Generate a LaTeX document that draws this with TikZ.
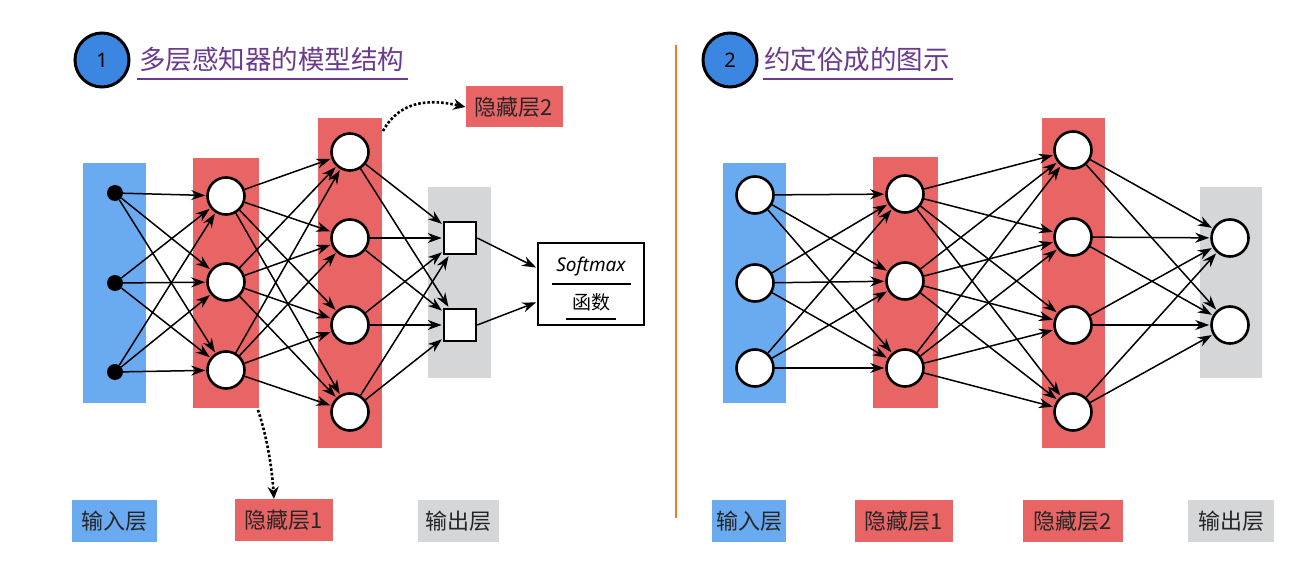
\documentclass[tikz,border=0pt]{standalone}
\usepackage{fontspec}
\newfontfamily\cjk{Noto Sans CJK SC}
\setmainfont{Noto Sans}
\usetikzlibrary{arrows.meta}
\definecolor{inblue}{HTML}{6AAAF0}
\definecolor{hred}{HTML}{E96565}
\definecolor{ogrey}{HTML}{D4D6D8}
\definecolor{badge}{HTML}{3A86E0}
\definecolor{titlep}{HTML}{6B3A8E}
\definecolor{divorange}{HTML}{F07D28}
\tikzset{
  neuron/.style={circle,draw=black,line width=2.6pt,fill=white,minimum size=37pt,inner sep=0pt},
  dotn/.style={circle,fill=black,minimum size=16pt,inner sep=0pt},
  sqn/.style={rectangle,draw=black,line width=2.6pt,fill=white,minimum size=32pt,inner sep=0pt},
  conn/.style={-{Stealth[length=14pt,width=10pt]},line width=1.5pt,shorten >=1pt},
  lab/.style={font=\cjk\fontsize{22}{24}\selectfont,inner sep=0pt,minimum height=42pt,text=black!85},
  badgen/.style={circle,fill=badge,draw=black,line width=3pt,minimum size=54pt,inner sep=0pt,font=\fontsize{20}{22}\selectfont},
  titlen/.style={font=\cjk\fontsize{26.5}{28}\selectfont,text=titlep,inner sep=0pt,anchor=west},
  uline/.style={titlep,line width=1.2pt},
  dotarrow/.style={line width=2.6pt,dotted,-{Stealth[length=12pt,width=11pt]}}
}
\begin{document}
\begin{tikzpicture}[x=1pt,y=-1pt]
\useasboundingbox (0,0) rectangle (1316,569);
\fill[white] (0,0) rectangle (1316,569);

% ---------------- Left panel ----------------
\node[badgen] (b1) at (102,60) {1};
\node[titlen] (t1) at (139,59) {多层感知器的模型结构};
\draw[uline] (137,79) -- (408,79);

\fill[inblue] (83,163) rectangle (146,403);
\fill[hred] (193,158) rectangle (259,408);
\fill[hred] (318,118) rectangle (382,448);
\fill[ogrey] (428,187) rectangle (491,378);

\node[dotn] (Li1) at (115,193) {};
\node[dotn] (Li2) at (115,283) {};
\node[dotn] (Li3) at (115,372) {};

\node[neuron] (Lh1) at (226,196) {};
\node[neuron] (Lh2) at (226,282) {};
\node[neuron] (Lh3) at (226,370) {};

\node[neuron] (Lg1) at (350,152) {};
\node[neuron] (Lg2) at (350,238) {};
\node[neuron] (Lg3) at (350,325) {};
\node[neuron] (Lg4) at (350,412) {};

\node[sqn] (Lo1) at (460,238) {};
\node[sqn] (Lo2) at (460,325) {};

\node[draw=black,line width=1.8pt,fill=white,minimum width=106pt,minimum height=82pt,inner sep=0pt] (sm) at (591,284) {};
\node[font=\itshape\fontsize{19}{21}\selectfont,inner sep=0pt] (smt) at (591,267) {Softmax};
\node[font=\cjk\fontsize{19}{21}\selectfont,inner sep=0pt] (smf) at (591,302) {函数};
\draw[line width=1.1pt] (552,284) -- (631,284);
\draw[line width=1.1pt] (566,319) -- (616,319);

\foreach \a in {1,2,3} \foreach \b in {1,2,3} \draw[conn] (Li\a) -- (Lh\b);
\foreach \a in {1,2,3} \foreach \b in {1,2,3,4} \draw[conn] (Lh\a) -- (Lg\b);
\foreach \a in {1,2,3,4} \foreach \b in {1,2} \draw[conn] (Lg\a) -- (Lo\b);
\draw[conn] (Lo1.east) -- (sm.west |- 0,268);
\draw[conn] (Lo2.east) -- (sm.west |- 0,302);

\node[lab,fill=hred,minimum width=97pt,minimum height=41pt] (lh2top) at (514,107) {隐藏层2};
\coordinate (c2) at (383,131);
\draw[dotarrow] (c2) .. controls (400,100) and (430,99) .. (lh2top.west);

\node[lab,fill=inblue,minimum width=85pt] (Lin) at (114,521) {输入层};
\node[lab,fill=hred,minimum width=98pt] (Lhid1) at (284,520) {隐藏层1};
\node[lab,fill=ogrey,minimum width=81pt] (Lout) at (458,521) {输出层};
\coordinate (c1) at (258,410);
\draw[dotarrow] (c1) .. controls (268,440) and (272,470) .. (Lhid1.north -| 274,0);

% divider
\draw[divorange,line width=1.6pt] (676,45) -- (676,518);

% ---------------- Right panel ----------------
\node[badgen] (b2) at (730,60) {2};
\node[titlen] (t2) at (764,59) {约定俗成的图示};
\draw[uline] (763,79) -- (953,79);

\fill[inblue] (723,163) rectangle (786,403);
\fill[hred] (873,157) rectangle (938,408);
\fill[hred] (1042,118) rectangle (1105,448);
\fill[ogrey] (1200,187) rectangle (1262,378);

\node[neuron] (Ri1) at (755,195) {};
\node[neuron] (Ri2) at (755,283) {};
\node[neuron] (Ri3) at (755,368) {};

\node[neuron] (Rh1) at (905,194) {};
\node[neuron] (Rh2) at (905,281) {};
\node[neuron] (Rh3) at (905,368) {};

\node[neuron] (Rg1) at (1073,150) {};
\node[neuron] (Rg2) at (1073,237) {};
\node[neuron] (Rg3) at (1073,325) {};
\node[neuron] (Rg4) at (1073,412) {};

\node[neuron] (Ro1) at (1230,238) {};
\node[neuron] (Ro2) at (1230,325) {};

\foreach \a in {1,2,3} \foreach \b in {1,2,3} \draw[conn] (Ri\a) -- (Rh\b);
\foreach \a in {1,2,3} \foreach \b in {1,2,3,4} \draw[conn] (Rh\a) -- (Rg\b);
\foreach \a in {1,2,3,4} \foreach \b in {1,2} \draw[conn] (Rg\a) -- (Ro\b);

\node[lab,fill=inblue,minimum width=74pt] (Rin) at (749,521) {输入层};
\node[lab,fill=hred,minimum width=98pt] (Rhid1) at (904,521) {隐藏层1};
\node[lab,fill=hred,minimum width=100pt] (Rhid2) at (1073,521) {隐藏层2};
\node[lab,fill=ogrey,minimum width=86pt] (Rout) at (1231,521) {输出层};
\end{tikzpicture}
\end{document}
